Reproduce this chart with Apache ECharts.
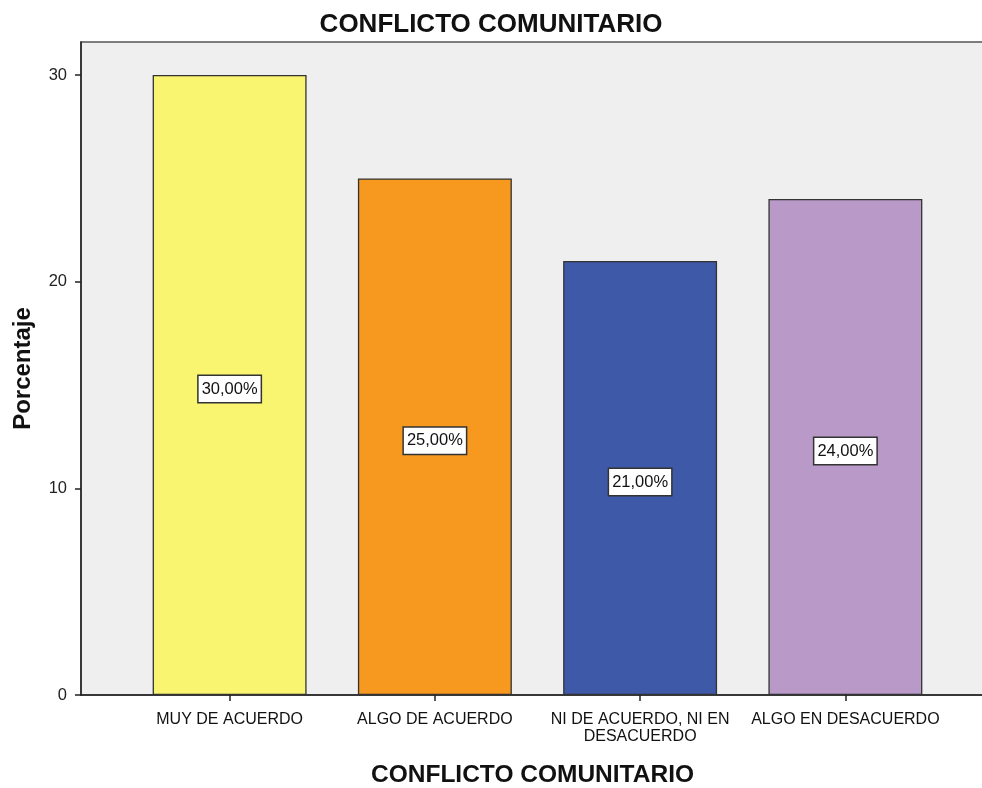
<!DOCTYPE html>
<html>
<head>
<meta charset="utf-8">
<script src="https://cdn.jsdelivr.net/npm/echarts@6/dist/echarts.min.js"></script>
<style>html,body{margin:0;padding:0;background:#fff}#c{width:982px;height:788px}</style>
</head>
<body>
<div id="c"></div>
<script>
var categories = ['MUY DE ACUERDO', 'ALGO DE ACUERDO', 'NI DE ACUERDO, NI EN\nDESACUERDO', 'ALGO EN DESACUERDO'];
var percentages = [30, 25, 21, 24];
var barColors = ['#f9f571', '#f7981f', '#3f59a9', '#b899c8'];
var yTicks = [0, 10, 20, 30];
var chartTitle = 'CONFLICTO COMUNITARIO';
var xName = 'CONFLICTO COMUNITARIO';
var yName = 'Porcentaje';

var font = 'Liberation Sans, Arial, sans-serif';
var chart = echarts.init(document.getElementById('c'), null, {renderer: 'canvas'});
var yMax = 31.6;
chart.setOption({
  animation: false,
  title: {
    text: chartTitle, left: 'center', top: 7,
    textStyle: {fontFamily: font, fontSize: 26, fontWeight: 'bold', color: '#111'}
  },
  grid: [
    {left: 81, right: -2, top: 42, bottom: 93, outerBoundsMode: 'none', containLabel: false,
     show: true, backgroundColor: '#efefef', borderColor: '#555', borderWidth: 1.5},
    {left: 127, right: 34, top: 42, bottom: 93, outerBoundsMode: 'none', containLabel: false}
  ],
  xAxis: [
    {gridIndex: 0, type: 'category', data: [''],
     axisLine: {show: true, lineStyle: {color: '#222', width: 1.5}},
     axisTick: {show: false}, axisLabel: {show: false},
     name: xName, nameLocation: 'middle', nameGap: 68,
     nameTextStyle: {fontFamily: font, fontSize: 24.5, fontWeight: 'bold', color: '#111'}},
    {gridIndex: 1, type: 'category', data: categories,
     axisLine: {show: false},
     axisTick: {show: true, alignWithLabel: true, length: 6, lineStyle: {color: '#222', width: 1.5}},
     axisLabel: {fontFamily: font, fontSize: 16, color: '#111', margin: 16, lineHeight: 17, interval: 0}}
  ],
  yAxis: [
    {gridIndex: 0, type: 'value', min: 0, max: yMax,
     axisLine: {show: true, lineStyle: {color: '#222', width: 1.5}},
     axisTick: {show: true, length: 6, customValues: yTicks, lineStyle: {color: '#222', width: 1.5}},
     axisLabel: {customValues: yTicks, fontFamily: font, fontSize: 16.5, color: '#222', margin: 14},
     splitLine: {show: false},
     name: yName, nameLocation: 'middle', nameGap: 46, nameRotate: 90,
     nameTextStyle: {fontFamily: font, fontSize: 24, fontWeight: 'bold', color: '#111'}},
    {gridIndex: 1, type: 'value', min: 0, max: yMax, show: false}
  ],
  series: [{
    type: 'bar', xAxisIndex: 1, yAxisIndex: 1,
    barWidth: '75%',
    data: percentages.map(function (v, i) {
      return {value: v, itemStyle: {color: barColors[i]}};
    }),
    itemStyle: {borderColor: '#333', borderWidth: 1.3},
    label: {
      show: true, position: 'inside', offset: [0, 4],
      formatter: function (p) { return p.value.toFixed(2).replace('.', ',') + '%'; },
      fontFamily: font, fontSize: 16.5, color: '#111',
      backgroundColor: '#fff', borderColor: '#333', borderWidth: 1.5,
      padding: [5, 3, 4, 3]
    }
  }]
});
</script>
</body>
</html>
